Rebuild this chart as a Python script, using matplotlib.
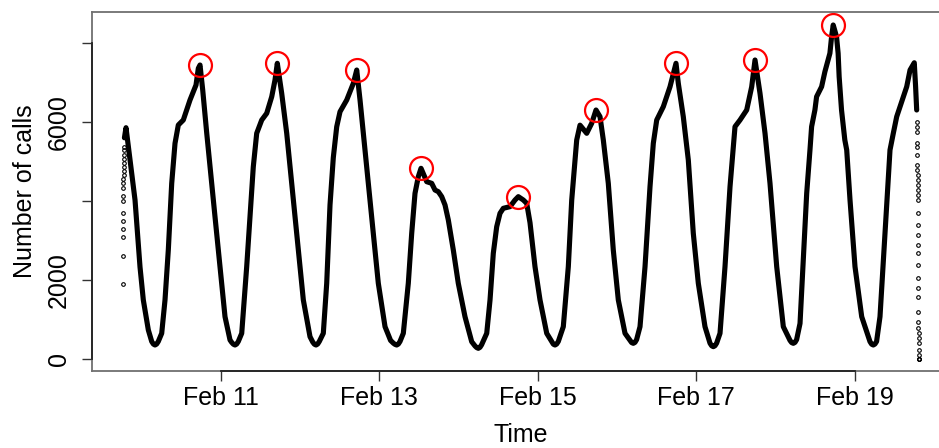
import matplotlib
matplotlib.use("Agg")
import matplotlib.pyplot as plt
import numpy as np

plt.rcParams['font.family'] = ['Liberation Sans', 'DejaVu Sans']

# Hours since Feb 9 00:00 and calls per minute at those times
hours = [
    18.90, 19.38, 20.59, 22.11, 23.62, 24.62, 26.14, 27.16, 27.66, 28.16, 28.66, 29.16,
    30.19, 31.19, 32.19, 33.22, 34.22, 35.22, 36.73, 38.76, 40.58, 41.28, 41.79,
    42.61, 43.82, 44.82, 46.33, 47.85, 49.36, 50.88, 51.39, 51.89, 52.39, 52.89, 53.39,
    54.42, 55.93, 56.93, 57.93, 58.96, 60.48, 61.99, 63.51, 64.50, 65.20,
    66.53, 68.05, 69.56, 71.08, 73.08, 75.10, 75.92, 76.42, 76.92, 77.42, 77.92,
    79.13, 80.16, 81.16, 82.16, 83.19, 84.19, 86.22, 88.22, 89.25,
    90.25, 91.25, 92.76, 94.27, 95.79, 97.82, 99.50, 100.36, 100.86, 101.36, 101.86, 102.36,
    103.36, 104.87, 105.90, 106.90, 107.90, 108.72,
    110.45, 111.96, 112.96, 113.96, 114.99, 115.99, 116.99, 118.50, 120.01, 122.04,
    124.07, 125.07, 125.57, 126.07, 126.57, 127.07,
    128.62, 129.62, 130.61, 131.64, 132.64, 133.64, 135.67, 137.19, 138.19,
    139.70, 140.73, 141.73, 143.24, 144.76, 146.79, 148.30, 148.80, 149.30, 149.80, 150.30,
    151.81, 153.33, 154.36, 155.87, 156.87, 158.90, 160.41, 161.72,
    162.93, 163.93, 165.44, 166.95, 168.47, 170.50, 172.01, 172.51, 173.01, 173.51, 174.01,
    175.04, 176.56, 178.07, 179.07, 180.10, 182.10, 184.13, 185.94,
    186.64, 188.15, 189.67, 191.18, 192.70, 194.72, 196.24, 196.74, 197.24, 197.74, 198.24,
    199.27, 200.78, 202.30, 203.81, 205.33, 207.35, 208.87, 209.87,
    211.38, 212.90, 214.41, 216.44, 218.44, 220.47, 220.97, 221.47, 221.97, 222.47,
    223.50, 224.49, 225.52, 226.52, 227.01, 228.01, 228.52, 230.04, 231.04, 232.55, 233.06, 233.55,
    234.56, 235.04, 235.35, 236.07, 237.07, 237.64, 238.64, 240.15, 242.18, 244.69, 245.19,
    245.69, 246.19, 246.69,
    247.72, 249.24, 250.75, 251.75, 252.78, 253.78, 255.81, 256.82, 258.10,
    258.50, 258.83,
]
calls = [
    5600, 5856, 5038, 4025, 2329, 1494, 734, 444, 379, 354, 379, 444,
    650, 1494, 2759, 4447, 5460, 5924, 6050, 6557, 6937, 7359, 7443,
    6810, 5722, 4868, 3602, 2337, 1071, 481, 420, 375, 354, 379, 444,
    650, 2337, 3602, 4868, 5714, 6050, 6220, 6641, 7063, 7486,
    6726, 5714, 4447, 3182, 1494, 565, 430, 375, 354, 379, 444,
    650, 1916, 3900, 5100, 5880, 6260, 6557, 6979, 7316,
    6557, 5714, 4447, 3182, 1916, 818, 470, 400, 370, 354, 379, 444,
    650, 1916, 3182, 4194, 4615, 4828,
    4489, 4447, 4278, 4236, 4110, 3899, 3519, 2759, 1916, 1071,
    438, 330, 290, 270, 295, 360,
    650, 1494, 2675, 3349, 3688, 3815, 3857, 4025, 4110,
    4025, 3941, 3450, 2337, 1494, 650, 440, 375, 354, 379, 444,
    818, 2337, 4025, 5544, 5920, 5714, 5967, 6304,
    6135, 5544, 4447, 2759, 1494, 650, 470, 415, 397, 420, 490,
    818, 2337, 4363, 5460, 6050, 6388, 6894, 7486,
    6979, 6135, 5038, 3182, 1916, 818, 400, 335, 312, 335, 400,
    650, 2337, 4363, 5882, 6050, 6304, 6894, 7570,
    6726, 5714, 4447, 2337, 818, 470, 415, 397, 420, 490,
    900, 2506, 4194, 5300, 5882, 6304, 6641, 6894, 7275, 7740, 8160, 8456,
    8160, 7740, 7147, 6304, 5544, 5291, 4025, 2337, 1071, 440, 375,
    354, 379, 444,
    1071, 3182, 5291, 5714, 6135, 6388, 6894, 7316, 7500,
    6900, 6304,
]

# Minute-by-minute counts while logging starts up and shuts down
start_ramp_calls = [1899, 2608, 3089, 3291, 3494, 3696, 4000, 4127, 4329, 4456,
                    4557, 4658, 4759, 4861, 4962, 5063, 5165, 5291, 5367]
start_ramp_first_hour = 18.45
end_ramp_calls = [6008, 5882, 5755, 5460, 5376, 5165, 4911, 4785, 4658, 4532,
                  4405, 4278, 4152, 4025, 3688, 3392, 3139, 2886, 2675, 2380,
                  2043, 1789, 1578, 1198, 945, 777, 650, 524, 397, 228, 101,
                  0, 0, 0]
end_ramp_first_hour = 258.95

tick_hours = [48, 96, 144, 192, 240]
tick_labels = ['Feb 11', 'Feb 13', 'Feb 15', 'Feb 17', 'Feb 19']
y_ticks = [0, 2000, 4000, 6000, 8000]
y_tick_labels = ['0', '2000', '', '6000', '']

hours_arr = np.array(hours)
calls_arr = np.array(calls)

start_t = start_ramp_first_hour + np.arange(len(start_ramp_calls)) / 60.0
end_t = end_ramp_first_hour + np.arange(len(end_ramp_calls)) / 60.0

# daily maxima over the complete days Feb 10 .. Feb 18
peak_t, peak_v = [], []
for day in range(1, 10):
    m = (hours_arr >= 24 * day) & (hours_arr < 24 * (day + 1))
    i = np.argmax(calls_arr[m])
    peak_t.append(hours_arr[m][i])
    peak_v.append(calls_arr[m][i])

fig = plt.figure(figsize=(9.39, 4.48), dpi=100)
ax = fig.add_axes([92 / 939, 77 / 448, (950 - 92) / 939, (436 - 77) / 448])

ax.plot(hours_arr, calls_arr, color='black', lw=3.7, solid_joinstyle='round',
        solid_capstyle='round')
ax.plot(start_t, start_ramp_calls, 'o', ms=2.6, mfc='none', mec='black', mew=0.8)
ax.plot(end_t, end_ramp_calls, 'o', ms=2.6, mfc='none', mec='black', mew=0.8)
ax.plot(peak_t, peak_v, 'o', ms=16.5, mfc='none', mec='#ff0000', mew=1.6)

ax.set_xlim(9.08, 268.92)
ax.set_ylim(-304, 8785)

for s in ax.spines.values():
    s.set_color('#707070')
    s.set_linewidth(1.3)

ax.set_xticks(tick_hours)
ax.set_xticklabels(tick_labels)
ax.set_yticks(y_ticks)
ax.set_yticklabels(y_tick_labels, rotation=90, va='center')
ax.tick_params(axis='both', length=7, width=1.0, color='#333333',
               labelsize=18, labelcolor='black')
ax.tick_params(axis='x', pad=3.5)
ax.tick_params(axis='y', pad=8)

# axis lines spanning the tick range
ax.plot([tick_hours[0], tick_hours[-1]], [-304, -304], color='#222222', lw=1.3,
        clip_on=False, zorder=5)
ax.plot([9.08, 9.08], [y_ticks[0], y_ticks[-1]], color='#222222', lw=1.3,
        clip_on=False, zorder=5)

ax.set_xlabel('Time', fontsize=18, labelpad=10)
ax.set_ylabel('Number of calls', fontsize=18, labelpad=7)

fig.savefig('out.png', dpi=100)
